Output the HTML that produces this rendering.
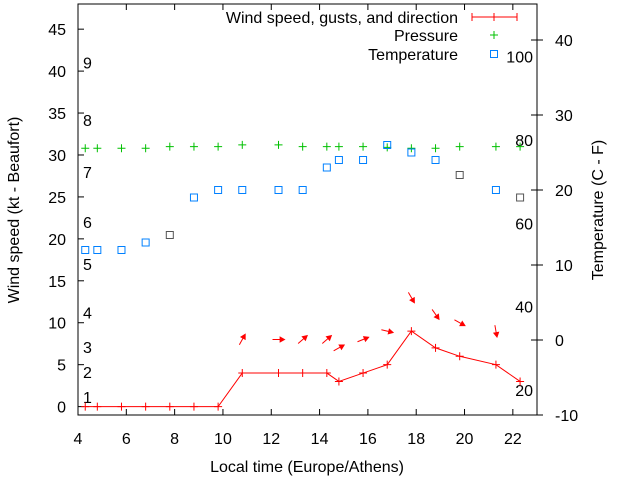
<!DOCTYPE html>
<html><head><meta charset="utf-8"><style>
body{margin:0;background:#fff}
svg{display:block;font-family:"Liberation Sans",sans-serif;font-size:16px}
</style></head><body>
<svg id="c" width="640" height="480"></svg>
<script>
const times=[4.3,4.8,5.8,6.8,7.8,8.8,9.8,10.8,12.3,13.3,14.3,14.8,15.8,16.8,17.8,18.8,19.8,21.3,22.3];
const wind=[0,0,0,0,0,0,0,4,4,4,4,3,4,5,9,7,6,5,3];
const pressure=[30.8,30.8,30.8,30.8,31.0,31.0,31.0,31.2,31.2,31.0,31.0,31.0,31.0,30.9,30.8,30.8,31.0,31.0,31.0];
const temps=[12,12,12,13,14,19,20,20,20,20,23,24,24,26,25,24,22,20,19];
const arrowTimes=[10.8,12.3,13.3,14.3,14.8,15.8,16.8,17.8,18.8,19.8,21.3];
const gusts=[8,8,8,8,7,8,9,13,11,10,9];
const arrowAngles=[61,0,41,41,29,22,-13,-60,-55,-29,-80];
const xTicks=[4,6,8,10,12,14,16,18,20,22];
const yTicks=[0,5,10,15,20,25,30,35,40,45];
const y2Ticks=[-10,0,10,20,30,40];
const beaufort=[[1,1.15],[2,4.1],[3,7.1],[4,11.2],[5,17],[6,22],[7,28],[8,34.2],[9,41]];
const fahr=[20,40,60,80,100];

const L=78,R=537,T=4,B=415;
const X=v=>L+(v-4)*(R-L)/19;
const Y=v=>B-(v+1)*(B-T)/49;
const Y2=v=>340-v*7.5;
const svg=document.getElementById('c');
const NS='http://www.w3.org/2000/svg';
function el(t,a,txt){const e=document.createElementNS(NS,t);for(const k in a)e.setAttribute(k,a[k]);if(txt!==undefined)e.textContent=txt;svg.appendChild(e);return e;}

let f=el('rect',{x:L,y:T,width:R-L,height:B-T,fill:'none',stroke:'#000'});


xTicks.forEach(v=>{
 let t=el('line',{x1:X(v),x2:X(v),y1:B,y2:B-6,stroke:'#000'});
 
 
 el('line',{x1:X(v),x2:X(v),y1:T,y2:T+6,stroke:'#000'});
 let l=el('text',{x:X(v),y:B+29,'text-anchor':'middle'},String(v));
 
 
});
yTicks.forEach(v=>{
 let t=el('line',{x1:L,x2:L+6,y1:Y(v),y2:Y(v),stroke:'#000'});
 
 
 let l=el('text',{x:L-12,y:Y(v)+6,'text-anchor':'end'},String(v));
 
 
});
y2Ticks.forEach(v=>{
 let t=el('line',{x1:R-6,x2:R+6,y1:Y2(v),y2:Y2(v),stroke:'#000'});
 
 
 let l=el('text',{x:R+18,y:Y2(v)+6,'text-anchor':'start'},String(v));
 
 
});
beaufort.forEach(b=>{
 let l=el('text',{x:L+5,y:Y(b[1])+6},String(b[0]));
 
 
});
fahr.forEach(v=>{
 let l=el('text',{x:533,y:Y2((v-32)*5/9)+6,'text-anchor':'end'},String(v));
 
 
});
let xl=el('text',{x:307,y:472,'text-anchor':'middle'},'Local time (Europe/Athens)');


let yl=el('text',{x:0,y:0,'text-anchor':'middle',transform:'translate(19,210) rotate(-90)'},'Wind speed (kt - Beaufort)');


let y2l=el('text',{x:0,y:0,'text-anchor':'middle',transform:'translate(603,210) rotate(-90)'},'Temperature (C - F)');



pressure.forEach((p,i)=>{
 let g=el('path',{d:`M${X(times[i])-4},${Y(p)}h8M${X(times[i])},${Y(p)-4}v8`,stroke:'#00c000','stroke-width':1});
 
 
});
temps.forEach((t,i)=>{
 const col=(i==4||i==16||i==18)?'#555':'#0080ff';
 let s=el('rect',{x:X(times[i])-3.5,y:Y2(t)-3.5,width:7,height:7,fill:'none',stroke:col});
 
 
});
let pl=el('polyline',{points:times.map((t,i)=>X(t)+','+Y(wind[i])).join(' '),fill:'none',stroke:'#f00'});


wind.forEach((w,i)=>{
 let g=el('path',{d:`M${X(times[i])-4},${Y(w)}h8M${X(times[i])},${Y(w)-4}v8`,stroke:'#f00'});
 
 
});
arrowTimes.forEach((t,i)=>{
 const a=arrowAngles[i]*Math.PI/180,cx=X(t),cy=Y(gusts[i]),len=12;
 const dx=Math.cos(a)*len/2,dy=-Math.sin(a)*len/2;
 const x2=cx+dx,y2=cy+dy;
 const h1=a+Math.PI-0.5,h2=a+Math.PI+0.5;
 let ar=el('path',{d:`M${cx-dx},${cy-dy}L${x2},${y2}M${x2},${y2}L${x2+Math.cos(h1)*5},${y2-Math.sin(h1)*5}L${x2+Math.cos(h2)*5},${y2-Math.sin(h2)*5}Z`,stroke:'#f00',fill:'#f00'});
 
 
});
const leg=[['Wind speed, gusts, and direction',17],['Pressure',35],['Temperature',54]];
leg.forEach((g,i)=>{
 let l=el('text',{x:458,y:g[1]+6,'text-anchor':'end'},g[0]);
 
 
});
let l1=el('path',{d:'M472,17h45M472,13v8M517,13v8M494,13v8',stroke:'#f00'});


let l2=el('path',{d:'M490,35h8M494,31v8',stroke:'#00c000'});


let l3=el('rect',{x:490.5,y:50.5,width:7,height:7,fill:'none',stroke:'#0080ff'});


</script>
</body></html>
